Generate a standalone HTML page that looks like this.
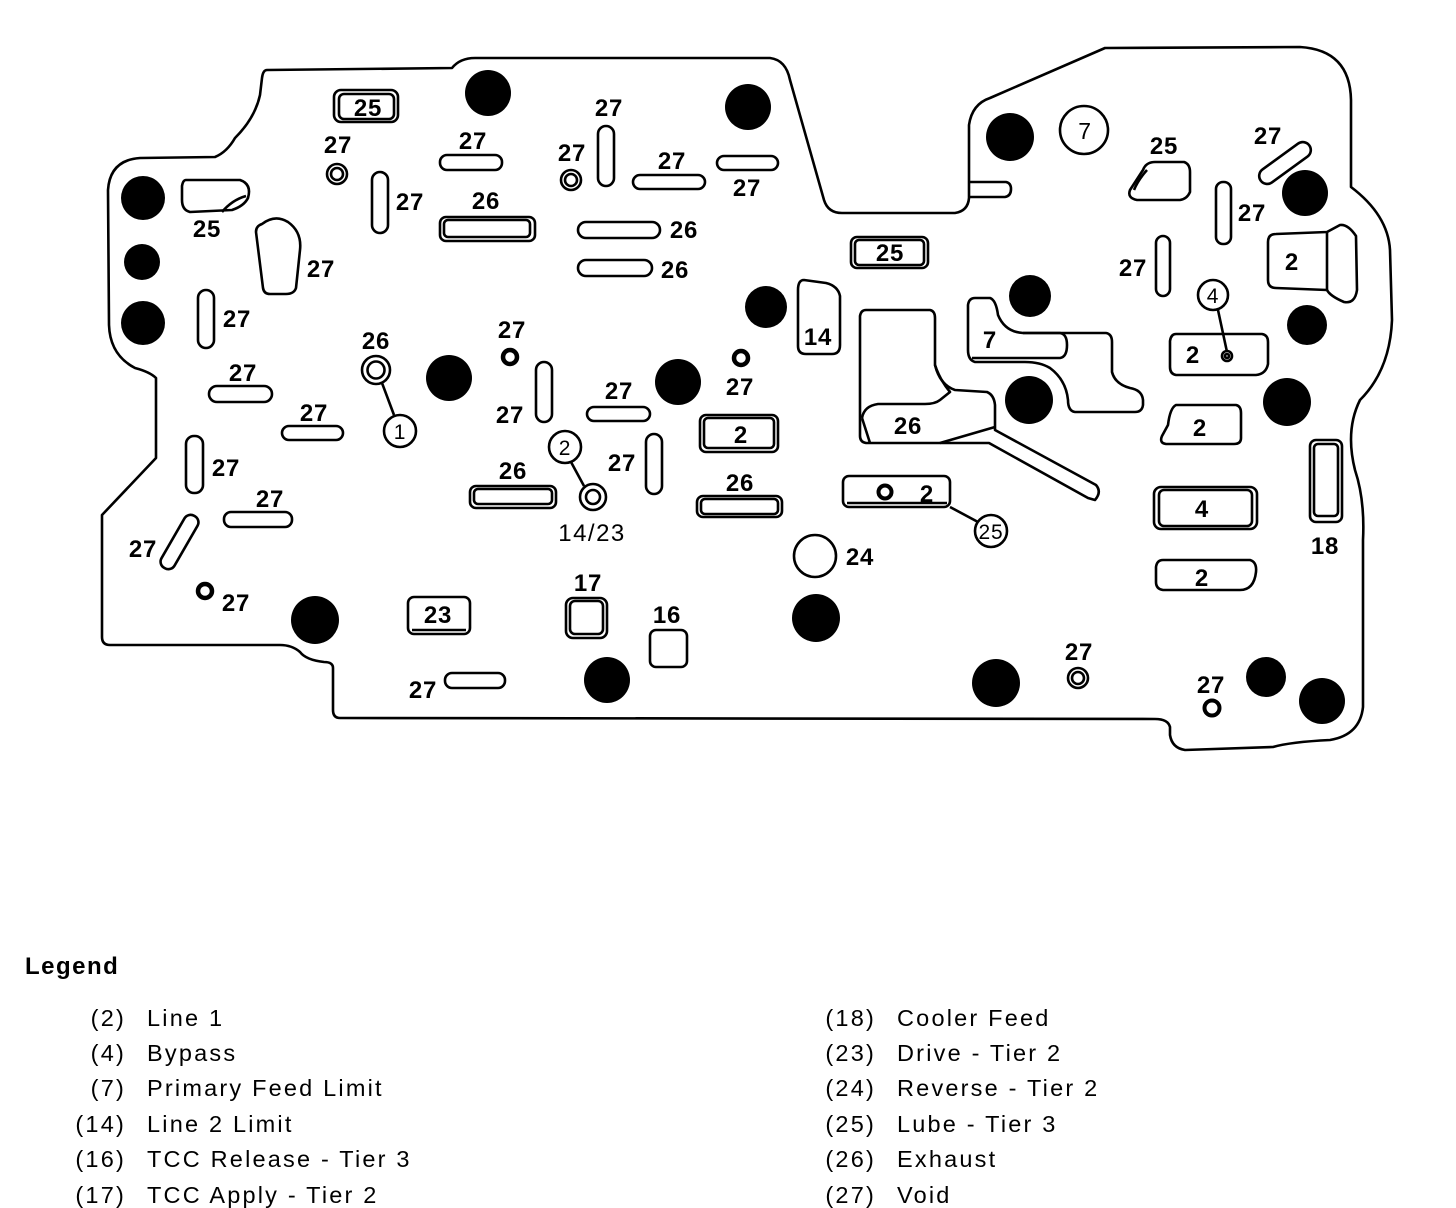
<!DOCTYPE html>
<html><head><meta charset="utf-8"><style>
html,body{margin:0;padding:0;background:#fff;}
svg{display:block;}
.l{font-family:"Liberation Sans",sans-serif;font-weight:bold;font-size:24px;text-anchor:middle;letter-spacing:0.8px;}
.g{font-family:"Liberation Sans",sans-serif;font-size:23.5px;letter-spacing:2.2px;}
</style></head><body>
<svg width="1456" height="1208" viewBox="0 0 1456 1208" xmlns="http://www.w3.org/2000/svg">
<g fill="none" stroke="#000" stroke-width="2.6" stroke-linejoin="round">
<path d="M267,70 L452,68 Q460,58 475,58 L770,58 Q786,60 790,80 L824,200 Q828,213 842,213 L955,213 Q968,211 969,198 L969,125 Q972,104 990,98 L1105,48 L1300,47 Q1350,50 1351,100 L1351,187 Q1388,215 1390,250 L1392,320 Q1390,370 1360,400 Q1345,430 1355,470 Q1365,500 1363,540 L1363,707 Q1360,735 1330,740 Q1290,742 1273,747 L1185,750 Q1172,748 1170,735 L1170,727 Q1168,719 1155,719 L340,718 Q333,718 333,710 L333,668 Q333,662 324,662 Q306,660 300,652 Q292,645 280,645 L110,645 Q102,645 102,637 L102,515 L156,458 L156,378 Q150,372 135,368 Q110,355 109,325 L108,190 Q110,160 140,158 L215,157 Q227,152 235,138 Q255,118 260,95 L262,78 Q263,70 267,70 Z"/>
<rect x="334" y="90" width="64" height="32" rx="7"/><rect x="339" y="94" width="55" height="25" rx="5"/>
<circle cx="337" cy="174" r="10"/><circle cx="337" cy="174" r="6"/>
<path d="M186,180 L240,180 Q252,184 248,198 Q244,206 232,210 L190,212 Q182,210 182,200 L182,186 Q183,180 186,180 Z"/>
<path d="M222,212 Q232,200 246,196"/>
<path d="M262,224 Q275,214 288,222 Q302,232 300,250 L296,288 Q294,294 286,294 L270,294 Q264,294 263,288 L256,232 Q256,226 262,224 Z"/>
<rect x="372" y="172" width="16" height="61" rx="8"/>
<rect x="440" y="155" width="62" height="15" rx="7"/>
<rect x="440" y="217" width="95" height="24" rx="6"/><rect x="444" y="220" width="86" height="17" rx="4"/>
<circle cx="571" cy="180" r="10"/><circle cx="571" cy="180" r="6"/>
<rect x="598" y="126" width="16" height="60" rx="8"/>
<rect x="633" y="175" width="72" height="14" rx="7"/>
<rect x="717" y="156" width="61" height="14" rx="7"/>
<rect x="578" y="222" width="82" height="16" rx="8"/>
<rect x="578" y="260" width="74" height="16" rx="8"/>
<rect x="851" y="237" width="77" height="31" rx="6"/><rect x="855" y="240" width="69" height="25" rx="4"/>
<rect x="198" y="290" width="16" height="58" rx="8"/>
<circle cx="376" cy="370" r="14"/><circle cx="376" cy="370" r="8.5"/>
<path d="M382,383 L394,415"/><circle cx="400" cy="431" r="16"/>
<circle cx="510" cy="357" r="7" stroke-width="4.5"/>
<rect x="536" y="362" width="16" height="60" rx="8"/>
<rect x="209" y="386" width="63" height="16" rx="8"/>
<rect x="282" y="426" width="61" height="14" rx="7"/>
<rect x="186" y="436" width="17" height="57" rx="8"/>
<rect x="224" y="512" width="68" height="15" rx="7"/>
<rect x="172" y="512" width="15" height="60" rx="7" transform="rotate(30 179.5 542)"/>
<circle cx="205" cy="591" r="7" stroke-width="4.5"/>
<rect x="587" y="407" width="63" height="14" rx="7"/>
<circle cx="565" cy="447" r="16"/><path d="M571,462 L584,486"/>
<circle cx="593" cy="497" r="13"/><circle cx="593" cy="497" r="7"/>
<rect x="646" y="434" width="16" height="60" rx="8"/>
<rect x="470" y="486" width="86" height="22" rx="6"/><rect x="474" y="489" width="78" height="15" rx="4"/>
<circle cx="741" cy="358" r="7" stroke-width="4.5"/>
<rect x="700" y="415" width="78" height="37" rx="6"/><rect x="704" y="418" width="70" height="30" rx="4"/>
<rect x="697" y="496" width="85" height="21" rx="6"/><rect x="701" y="499" width="77" height="15" rx="4"/>
<path d="M804,280 L826,283 Q838,286 840,296 L840,345 Q840,354 832,354 L806,354 Q798,354 798,346 L798,290 Q798,280 804,280 Z"/>
<circle cx="815" cy="556" r="21"/>
<rect x="843" y="476" width="107" height="31" rx="6"/><path d="M847,503 L947,503"/>
<circle cx="885" cy="492" r="6.5" stroke-width="4"/>
<path d="M950,507 L978,522"/><circle cx="991" cy="531" r="16"/>
<rect x="408" y="597" width="62" height="37" rx="6"/><path d="M412,630 L466,630"/>
<rect x="566" y="598" width="41" height="40" rx="7"/><rect x="570" y="601" width="33" height="33" rx="5"/>
<rect x="650" y="630" width="37" height="37" rx="6"/>
<rect x="445" y="673" width="60" height="15" rx="7"/>
<circle cx="1084" cy="130" r="24"/>
<path d="M970,182 L1006,182 Q1011,183 1011,189 Q1011,196 1005,197 L970,197"/>
<path d="M1143,170 Q1146,162 1155,162 L1184,162 Q1190,164 1190,172 L1190,192 Q1187,199 1180,200 L1137,200 Q1127,198 1130,190 Z"/>
<path d="M1134,190 Q1138,180 1147,170"/>
<rect x="1277" y="133" width="16" height="60" rx="8" transform="rotate(54 1285 163)"/>
<rect x="1216" y="182" width="15" height="62" rx="7"/>
<rect x="1156" y="236" width="14" height="60" rx="7"/>
<path d="M1276,234 L1327,232 L1340,225 Q1348,224 1356,236 L1357,290 Q1355,304 1344,302 Q1330,296 1327,290 L1276,288 Q1268,288 1268,280 L1268,242 Q1268,234 1276,234 Z"/>
<path d="M1327,232 L1327,290"/>
<circle cx="1213" cy="295" r="15"/><path d="M1218,310 L1227,352"/>
<circle cx="1227" cy="356" r="5"/><circle cx="1227" cy="356" r="2"/>
<path d="M1176,334 L1262,334 Q1268,335 1268,342 L1268,364 Q1266,374 1256,375 L1176,375 Q1170,374 1170,367 L1170,341 Q1171,334 1176,334 Z"/>
<path d="M1176,405 L1236,405 Q1241,406 1241,413 L1241,438 Q1241,444 1234,444 L1166,444 Q1159,443 1162,436 L1168,425 Q1170,408 1176,405 Z"/>
<rect x="1310" y="440" width="32" height="82" rx="6"/><rect x="1314" y="444" width="24" height="72" rx="4"/>
<rect x="1154" y="487" width="103" height="42" rx="7"/><rect x="1159" y="490" width="93" height="36" rx="5"/>
<path d="M1163,560 L1250,560 Q1257,562 1256,572 Q1254,590 1240,590 L1163,590 Q1156,589 1156,582 L1156,567 Q1157,560 1163,560 Z"/>
<circle cx="1078" cy="678" r="10"/><circle cx="1078" cy="678" r="6"/>
<circle cx="1212" cy="708" r="7.5" stroke-width="4"/>
<path d="M866,310 L930,310 Q935,311 935,318 L935,365 Q940,385 955,390 L987,392 Q994,395 995,405 L995,430 L1096,485 Q1102,492 1095,500 L1088,498 L989,443 L866,443 Q860,442 860,436 L860,316 Q861,310 866,310 Z"/>
<path d="M935,365 Q940,380 950,392 L940,400 Q935,404 925,404 L878,404 Q864,406 862,418"/>
<path d="M862,418 L870,443"/><path d="M940,443 L995,427"/>
<path d="M975,298 L990,298 Q996,300 998,315 Q1005,332 1023,333 L1106,333 Q1112,334 1112,342 L1112,372 Q1115,384 1130,388 Q1142,390 1143,400 L1143,405 Q1142,412 1135,412 L1075,412 Q1068,411 1068,400 Q1066,380 1050,368 Q1040,362 1025,362 L975,362 Q968,360 968,350 L968,305 Q969,298 975,298 Z"/>
<path d="M1023,333 L1060,333 Q1067,334 1067,345 Q1067,357 1060,358 L972,358"/>
</g>
<g fill="#000">
<circle cx="143" cy="198" r="22"/><circle cx="142" cy="262" r="18"/><circle cx="143" cy="323" r="22"/>
<circle cx="488" cy="93" r="23"/><circle cx="748" cy="107" r="23"/><circle cx="449" cy="378" r="23"/>
<circle cx="678" cy="382" r="23"/><circle cx="766" cy="307" r="21"/><circle cx="1010" cy="137" r="24"/>
<circle cx="1030" cy="296" r="21"/><circle cx="1029" cy="400" r="24"/><circle cx="1305" cy="193" r="23"/>
<circle cx="1307" cy="325" r="20"/><circle cx="1287" cy="402" r="24"/><circle cx="315" cy="620" r="24"/>
<circle cx="607" cy="680" r="23"/><circle cx="816" cy="618" r="24"/><circle cx="996" cy="683" r="24"/>
<circle cx="1266" cy="677" r="20"/><circle cx="1322" cy="701" r="23"/>
</g>
<g class="l">
<text x="368" y="116">25</text><text x="338" y="153">27</text><text x="207" y="237">25</text>
<text x="321" y="277">27</text><text x="410" y="210">27</text><text x="473" y="149">27</text>
<text x="486" y="209">26</text><text x="572" y="161">27</text><text x="609" y="116">27</text>
<text x="672" y="169">27</text><text x="747" y="196">27</text><text x="684" y="238">26</text>
<text x="675" y="278">26</text><text x="890" y="261">25</text><text x="237" y="327">27</text>
<text x="376" y="349">26</text><text x="512" y="338">27</text><text x="510" y="423">27</text>
<text x="243" y="381">27</text><text x="314" y="421">27</text><text x="226" y="476">27</text>
<text x="270" y="507">27</text><text x="143" y="557">27</text><text x="236" y="611">27</text>
<text x="619" y="399">27</text><text x="622" y="471">27</text><text x="513" y="479">26</text>
<text x="740" y="395">27</text><text x="741" y="443">2</text><text x="740" y="491">26</text>
<text x="818" y="345">14</text><text x="860" y="565">24</text><text x="927" y="502">2</text>
<text x="438" y="623">23</text><text x="588" y="591">17</text><text x="667" y="623">16</text>
<text x="423" y="698">27</text>
<text x="1164" y="154">25</text><text x="1268" y="144">27</text><text x="1252" y="221">27</text>
<text x="1133" y="276">27</text><text x="1292" y="270">2</text><text x="1193" y="363">2</text>
<text x="1200" y="436">2</text><text x="1325" y="554">18</text><text x="1202" y="517">4</text>
<text x="1202" y="586">2</text><text x="1079" y="660">27</text><text x="1211" y="693">27</text>
<text x="908" y="434">26</text><text x="990" y="348">7</text>
</g>
<g class="l" style="font-weight:normal;font-size:21px">
<text x="400" y="439">1</text><text x="565" y="455">2</text><text x="1213" y="303">4</text>
<text x="991" y="539">25</text><text x="1085" y="139" style="font-size:23px">7</text>
<text x="592" y="541" style="font-size:24px;letter-spacing:1.5px">14/23</text>
</g>
<text x="25" y="974" style="font-family:'Liberation Sans',sans-serif;font-weight:bold;font-size:24px;letter-spacing:1.5px">Legend</text>
<g class="g">
<g text-anchor="end">
<text x="126" y="1026">(2)</text><text x="126" y="1061">(4)</text><text x="126" y="1096">(7)</text>
<text x="126" y="1132">(14)</text><text x="126" y="1167">(16)</text><text x="126" y="1203">(17)</text>
<text x="876" y="1026">(18)</text><text x="876" y="1061">(23)</text><text x="876" y="1096">(24)</text>
<text x="876" y="1132">(25)</text><text x="876" y="1167">(26)</text><text x="876" y="1203">(27)</text>
</g>
<text x="147" y="1026">Line 1</text><text x="147" y="1061">Bypass</text><text x="147" y="1096">Primary Feed Limit</text>
<text x="147" y="1132">Line 2 Limit</text><text x="147" y="1167">TCC Release - Tier 3</text><text x="147" y="1203">TCC Apply - Tier 2</text>
<text x="897" y="1026">Cooler Feed</text><text x="897" y="1061">Drive - Tier 2</text><text x="897" y="1096">Reverse - Tier 2</text>
<text x="897" y="1132">Lube - Tier 3</text><text x="897" y="1167">Exhaust</text><text x="897" y="1203">Void</text>
</g>
</svg>
</body></html>
